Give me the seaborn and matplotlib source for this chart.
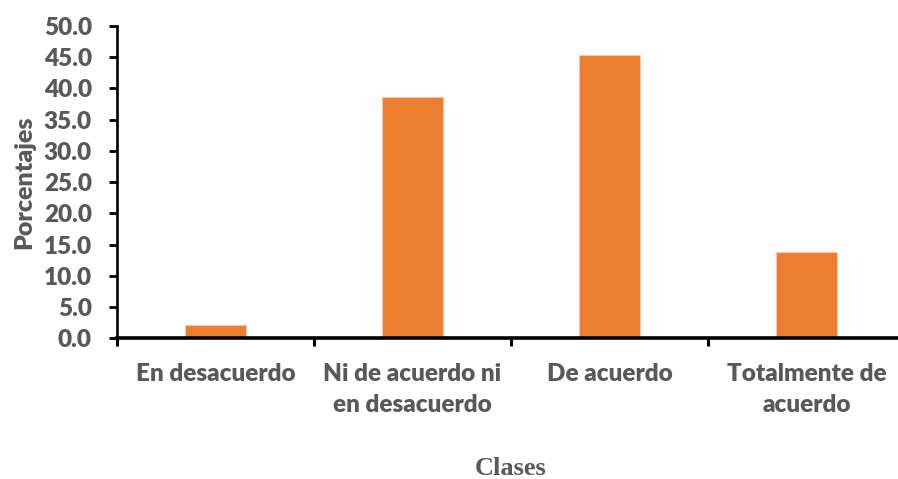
import matplotlib
matplotlib.use("Agg")
import matplotlib.pyplot as plt
import matplotlib.ticker as mticker
import seaborn as sns
import pandas as pd

categorias = ["En desacuerdo", "Ni de acuerdo ni\nen desacuerdo", "De acuerdo", "Totalmente de\nacuerdo"]
porcentajes = [2.1, 38.7, 45.3, 13.8]

sns.set_theme(style="white")
plt.rcParams["font.family"] = ["Lato", "DejaVu Sans"]

gris = "#595959"
naranja = "#ED7D31"
peso = "heavy"

df = pd.DataFrame({"Clases": categorias, "Porcentajes": porcentajes})

fig = plt.figure(figsize=(8.98, 4.79), dpi=100)
ax = fig.add_axes([117 / 898, 140.7 / 479, 788 / 898, 312.3 / 479])

sns.barplot(data=df, x="Clases", y="Porcentajes", color=naranja, width=0.31,
            edgecolor="#F8CBAD", linewidth=0.6, saturation=1, ax=ax)

ax.set_xlim(-0.5, 3.5)
ax.set_ylim(0, 50)
ax.yaxis.set_major_locator(mticker.MultipleLocator(5))
ax.yaxis.set_major_formatter(mticker.FormatStrFormatter("%.1f"))

# category boundaries carry the tick marks, centres carry the labels
ax.set_xticks([-0.5, 0.5, 1.5, 2.5, 3.5])
ax.set_xticklabels([])
ax.set_xticks([0, 1, 2, 3], minor=True)
ax.set_xticklabels(categorias, minor=True, fontsize=17.5, fontweight=peso, color=gris,
                   linespacing=1.5)
ax.tick_params(axis="x", which="major", direction="out", length=6, width=2.2, color="black",
               bottom=True)
ax.tick_params(axis="x", which="minor", length=0, pad=18)
ax.tick_params(axis="y", direction="out", length=6, width=2.0, color="black", left=True,
               pad=12, labelsize=17.5, labelcolor=gris)
for lab in ax.get_yticklabels():
    lab.set_fontweight(peso)

for s in ["top", "right"]:
    ax.spines[s].set_visible(False)
ax.spines["left"].set_color("black")
ax.spines["left"].set_linewidth(1.9)
ax.spines["bottom"].set_color("black")
ax.spines["bottom"].set_linewidth(2.6)

ax.set_ylabel("Porcentajes", fontsize=18, fontweight=peso, color=gris, labelpad=6)
ax.set_xlabel("Clases", fontsize=19, fontweight="bold", color=gris,
              family=["Liberation Serif", "DejaVu Serif"], labelpad=29)

fig.savefig("out.png", dpi=100)
